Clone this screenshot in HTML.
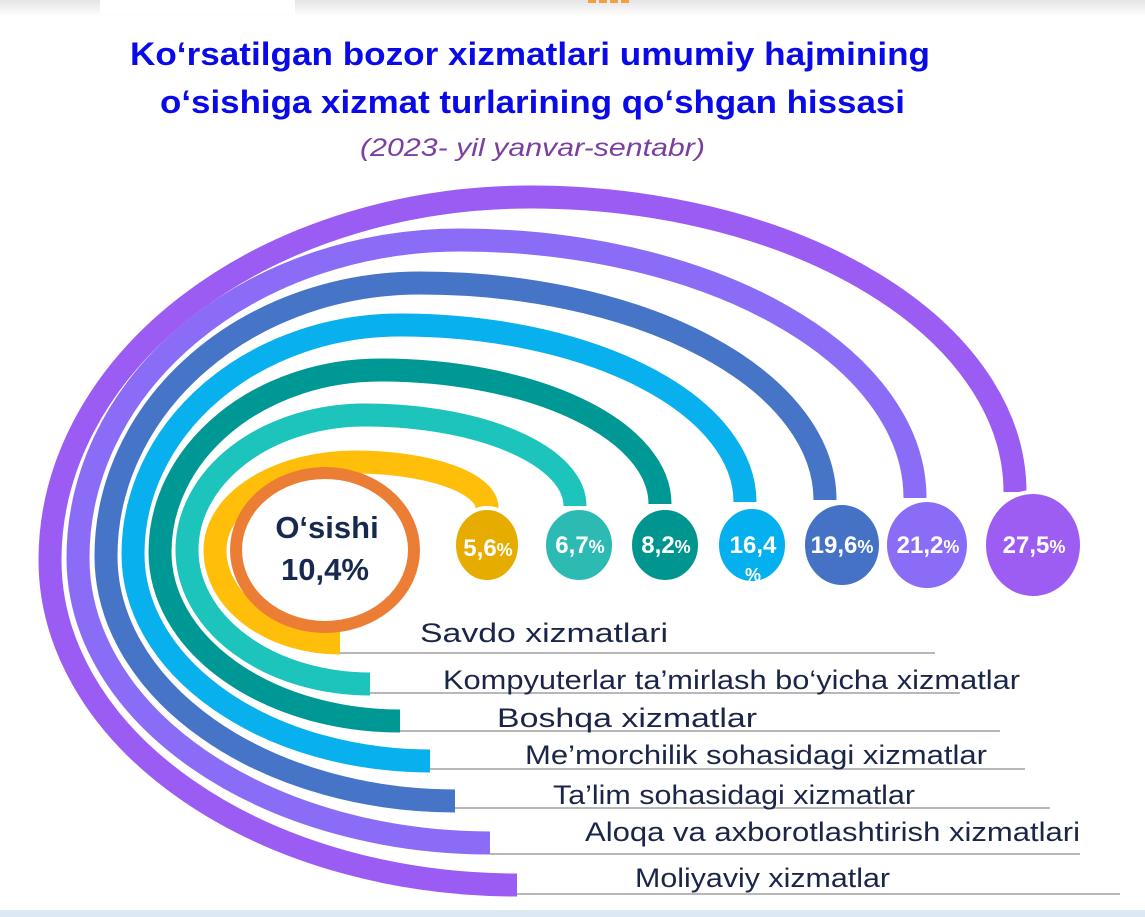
<!DOCTYPE html>
<html><head><meta charset="utf-8"><style>
html,body{margin:0;padding:0;background:#fff;}
body{width:1145px;height:917px;overflow:hidden;position:relative;font-family:"Liberation Sans",sans-serif;}
</style></head><body>
<svg width="1145" height="917" viewBox="0 0 1145 917" xmlns="http://www.w3.org/2000/svg" style="position:absolute;left:0;top:0">
<defs>
<linearGradient id="tb" x1="0" y1="0" x2="0" y2="1"><stop offset="0" stop-color="#e4e4e4"/><stop offset="1" stop-color="#ffffff"/></linearGradient>
</defs>
<rect x="0" y="0" width="1145" height="16" fill="url(#tb)"/>
<rect x="100" y="0" width="195" height="14" fill="#fff"/>
<rect x="588" y="0" width="8" height="3" fill="#f0a040"/><rect x="599" y="0" width="8" height="3" fill="#f0a040"/><rect x="610" y="0" width="8" height="3" fill="#f0a040"/><rect x="621" y="0" width="8" height="3" fill="#f0a040"/>
<rect x="0" y="910" width="1145" height="7" fill="#dde8f5"/>

<text x="130" y="65" font-size="32" font-weight="bold" fill="#0a0ae8" textLength="800" lengthAdjust="spacingAndGlyphs">Ko‘rsatilgan bozor xizmatlari umumiy hajmining</text>
<text x="160" y="113" font-size="32" font-weight="bold" fill="#0a0ae8" textLength="745" lengthAdjust="spacingAndGlyphs">o‘sishiga xizmat turlarining qo‘shgan hissasi</text>
<text x="360" y="156" font-size="25" font-style="italic" fill="#7a3fa0" textLength="345" lengthAdjust="spacingAndGlyphs">(2023- yil yanvar-sentabr)</text>

<g fill="none" stroke="#a0a0a0" stroke-width="1.5">
<line x1="340" y1="653" x2="935" y2="653"/>
<line x1="370" y1="693" x2="960" y2="693"/>
<line x1="400" y1="731" x2="1000" y2="731"/>
<line x1="430" y1="769" x2="1025" y2="769"/>
<line x1="455" y1="808" x2="1050" y2="808"/>
<line x1="490" y1="854" x2="1080" y2="854"/>
<line x1="515" y1="894" x2="1120" y2="894"/>
</g>

<g fill="none" stroke-width="23">
<path stroke="#9b5cf3" d="M517,885 A467,325 0 0 1 50,560 A480,363 0 0 1 530,197 A485,295 0 0 1 1015,492"/>
<path stroke="#8b6cf7" d="M490,843 A413,285 0 0 1 78,558 A382,318 0 0 1 460,240 A455,258 0 0 1 915,498"/>
<path stroke="#4674c6" d="M455,801 A350,245 0 0 1 106,556 A314,273 0 0 1 420,283 A405,217 0 0 1 825,500"/>
<path stroke="#08b0ee" d="M430,761 A298,207 0 0 1 133,554 A267,229 0 0 1 400,325 A345,177 0 0 1 745,502"/>
<path stroke="#009894" d="M400,721 A240,169 0 0 1 160,552 A220,182 0 0 1 380,370 A280,134 0 0 1 660,504"/>
<path stroke="#1dc4bc" d="M370,684 A183,134 0 0 1 187,550 A178,135 0 0 1 365,415 A210,91 0 0 1 575,506"/>
<path stroke="#ffbe0a" d="M340,643 A125,93 0 0 1 215,550 A140,88 0 0 1 355,462 A132,46 0 0 1 487,508"/>
</g>

<ellipse cx="325" cy="550" rx="89" ry="77" fill="#fff" stroke="#ec7d34" stroke-width="12"/>
<text x="327" y="538" text-anchor="middle" font-size="31" font-weight="bold" fill="#17294f">O‘sishi</text>
<text x="325" y="580" text-anchor="middle" font-size="31" font-weight="bold" fill="#17294f">10,4%</text>

<g stroke="#fff" stroke-width="4">
<ellipse cx="487" cy="545" rx="33" ry="37" fill="#e6ac00"/>
<ellipse cx="579" cy="545" rx="35" ry="37" fill="#2cbab3"/>
<ellipse cx="665" cy="545" rx="35" ry="37" fill="#00968f"/>
<ellipse cx="752" cy="545" rx="35" ry="38" fill="#05b0ef"/>
<ellipse cx="842" cy="545" rx="39" ry="42" fill="#4572c4"/>
<ellipse cx="927" cy="545" rx="42" ry="45" fill="#8b6cf6"/>
<ellipse cx="1033" cy="545" rx="49" ry="53" fill="#9d5cf2"/>
</g>
<g fill="#fff" font-weight="bold" font-size="24" text-anchor="middle">
<text x="488" y="556">5,6<tspan font-size="18">%</tspan></text>
<text x="580" y="553">6,7<tspan font-size="18">%</tspan></text>
<text x="666" y="553">8,2<tspan font-size="18">%</tspan></text>
<text x="753" y="553">16,4</text>
<text x="753" y="581" font-size="18">%</text>
<text x="842" y="553">19,6<tspan font-size="18">%</tspan></text>
<text x="928" y="553">21,2<tspan font-size="18">%</tspan></text>
<text x="1034" y="553">27,5<tspan font-size="18">%</tspan></text>
</g>

<g fill="#1b2548" font-size="27">
<text x="420" y="642" textLength="248" lengthAdjust="spacingAndGlyphs">Savdo xizmatlari</text>
<text x="443" y="689" textLength="577" lengthAdjust="spacingAndGlyphs">Kompyuterlar ta’mirlash bo‘yicha  xizmatlar</text>
<text x="497" y="727" textLength="260" lengthAdjust="spacingAndGlyphs">Boshqa xizmatlar</text>
<text x="525" y="764" textLength="462" lengthAdjust="spacingAndGlyphs">Me’morchilik sohasidagi  xizmatlar</text>
<text x="553" y="804" textLength="362" lengthAdjust="spacingAndGlyphs">Ta’lim sohasidagi xizmatlar</text>
<text x="585" y="841" textLength="495" lengthAdjust="spacingAndGlyphs">Aloqa va axborotlashtirish  xizmatlari</text>
<text x="635" y="887" textLength="255" lengthAdjust="spacingAndGlyphs">Moliyaviy xizmatlar</text>
</g>
</svg>
</body></html>
